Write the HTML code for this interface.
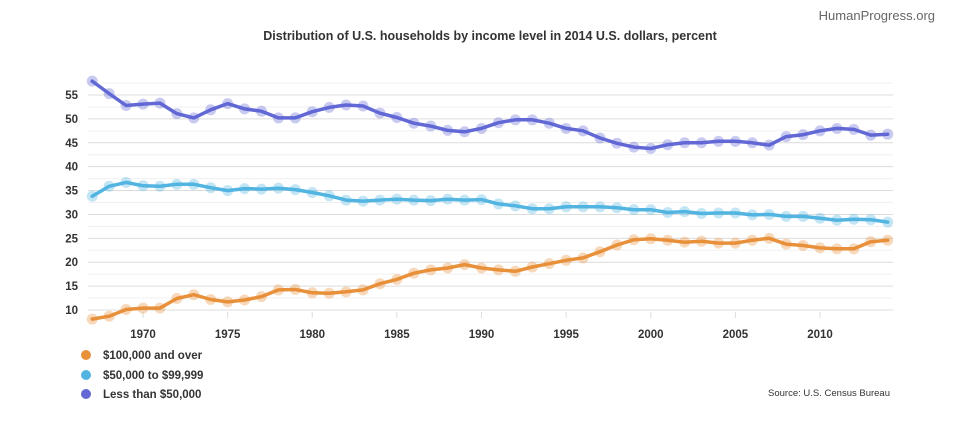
<!DOCTYPE html>
<html><head><meta charset="utf-8"><style>
body{margin:0;background:#fff;font-family:"Liberation Sans",sans-serif;}
svg text{font-family:"Liberation Sans",sans-serif;}
</style></head><body>
<svg width="970" height="427" viewBox="0 0 970 427">
<text x="935" y="20" text-anchor="end" font-size="13" fill="#666">HumanProgress.org</text>
<text x="490" y="40" text-anchor="middle" font-size="12.5" font-weight="bold" fill="#333">Distribution of U.S. households by income level in 2014 U.S. dollars, percent</text>
<g id="grid"></g><g id="yt"></g><g id="xt"></g><g id="series"></g>
<g>
<g><circle cx="86" cy="355" r="5" fill="#e8903a"/><text x="103" y="359" font-size="11.5" font-weight="bold" fill="#333">$100,000 and over</text></g>
<g><circle cx="86" cy="375" r="5" fill="#52b4e0"/><text x="103" y="379" font-size="11.5" font-weight="bold" fill="#333">$50,000 to $99,999</text></g>
<g><circle cx="86" cy="394" r="5" fill="#6268d4"/><text x="103" y="398" font-size="11.5" font-weight="bold" fill="#333">Less than $50,000</text></g>
</g>
<text x="890" y="396" text-anchor="end" font-size="9.5" fill="#333">Source: U.S. Census Bureau</text>
</svg>
<script>
const years=[];for(let y=1967;y<=2014;y++)years.push(y);
const under50k=[57.9,55.3,52.8,53.1,53.3,51.1,50.2,51.9,53.2,52.1,51.6,50.2,50.2,51.5,52.4,52.9,52.7,51.2,50.3,49.1,48.5,47.6,47.3,48.0,49.2,49.8,49.8,49.1,48.0,47.5,46.0,44.9,44.1,43.8,44.6,45.0,45.0,45.3,45.3,45.0,44.5,46.3,46.7,47.5,48.0,47.8,46.6,46.8];
const mid50to100k=[33.8,35.9,36.7,36.0,35.9,36.3,36.3,35.6,35.0,35.4,35.3,35.5,35.2,34.6,33.9,33.0,32.8,33.0,33.2,33.0,32.9,33.2,33.0,33.1,32.2,31.8,31.2,31.2,31.6,31.6,31.6,31.4,31.0,31.0,30.4,30.6,30.2,30.3,30.3,29.9,30.0,29.6,29.6,29.2,28.8,29.0,28.9,28.4];
const over100k=[8.1,8.7,10.1,10.4,10.4,12.4,13.2,12.2,11.7,12.1,12.8,14.2,14.3,13.6,13.5,13.8,14.2,15.5,16.4,17.7,18.4,18.8,19.5,18.8,18.4,18.1,19.0,19.7,20.4,20.9,22.2,23.6,24.7,24.9,24.6,24.2,24.4,24.0,24.0,24.6,25.0,23.8,23.5,23.0,22.8,22.8,24.3,24.6];
const yTicks=[10,15,20,25,30,35,40,45,50,55];
const xTicks=[1970,1975,1980,1985,1990,1995,2000,2005,2010];
const NS="http://www.w3.org/2000/svg";
const x=v=>143+(v-1970)*(677/40);
const y=v=>310-(v-10)*(215/45);
function mk(t,a,p){const e=document.createElementNS(NS,t);for(const k in a)e.setAttribute(k,a[k]);p.appendChild(e);return e;}
const grid=document.getElementById('grid');
for(let v=10;v<=57.5;v+=2.5){const major=v%5===0;
const l=mk('line',{x1:88,x2:893,y1:y(v),y2:y(v),stroke:major?'#dcdcdc':'#f0f0f0','stroke-width':1},grid);

}
const yt=document.getElementById('yt');
yTicks.forEach(v=>{const t=mk('text',{x:78,y:y(v)+4,'text-anchor':'end','font-size':11.5,'font-weight':'bold',fill:'#333'},yt);t.textContent=v;

});
const xt=document.getElementById('xt');
xTicks.forEach(v=>{mk('line',{x1:x(v),x2:x(v),y1:312,y2:318,stroke:'#ddd'},xt);
const t=mk('text',{x:x(v),y:338,'text-anchor':'middle','font-size':11.5,'font-weight':'bold',fill:'#333'},xt);t.textContent=v;

});
const sg=document.getElementById('series');
[[over100k,'#e8903a','series-100k-and-over'],[mid50to100k,'#52b4e0','series-50k-to-100k'],[under50k,'#6268d4','series-under-50k']].forEach(([d,c,n])=>{
const g=mk('g',{},sg);


const pts=d.map((v,i)=>x(years[i]).toFixed(1)+','+y(v).toFixed(1)).join(' ');
mk('polyline',{points:pts,fill:'none',stroke:c,'stroke-width':3.5,'stroke-linejoin':'round','stroke-linecap':'round'},g);
d.forEach((v,i)=>{const p=mk('circle',{cx:x(years[i]),cy:y(v),r:5.5,fill:c,'fill-opacity':0.35},g);

});
});
</script>
</body></html>
